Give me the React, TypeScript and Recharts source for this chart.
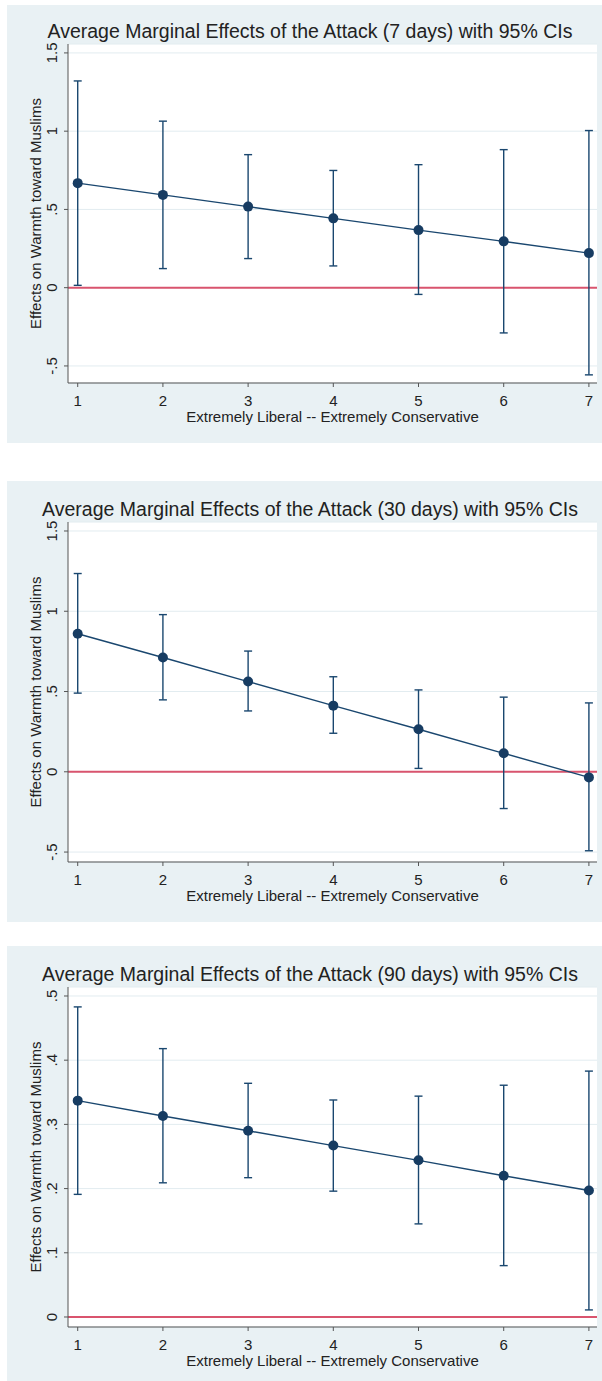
import {
  CartesianGrid,
  ComposedChart,
  ErrorBar,
  Label,
  Line,
  ReferenceLine,
  XAxis,
  YAxis,
} from 'recharts';

// ideology scale 1..7
const ideology = [1, 2, 3, 4, 5, 6, 7];
const xTickLabels = ['1', '2', '3', '4', '5', '6', '7'];

// 7 days
const est7 = [0.668, 0.593, 0.518, 0.443, 0.368, 0.296, 0.221];
const lo7 = [0.015, 0.122, 0.186, 0.139, -0.043, -0.289, -0.557];
const hi7 = [1.321, 1.064, 0.85, 0.749, 0.786, 0.882, 1.004];
const yTicks7 = [-0.5, 0, 0.5, 1, 1.5];
const yTickLabels7 = ['-.5', '0', '.5', '1', '1.5'];

// 30 days
const est30 = [0.86, 0.712, 0.562, 0.412, 0.265, 0.115, -0.035];
const lo30 = [0.49, 0.448, 0.379, 0.24, 0.021, -0.229, -0.492];
const hi30 = [1.235, 0.979, 0.752, 0.592, 0.51, 0.465, 0.429];
const yTicks30 = [-0.5, 0, 0.5, 1, 1.5];
const yTickLabels30 = ['-.5', '0', '.5', '1', '1.5'];

// 90 days
const est90 = [0.337, 0.313, 0.29, 0.267, 0.244, 0.22, 0.197];
const lo90 = [0.191, 0.209, 0.217, 0.196, 0.145, 0.08, 0.011];
const hi90 = [0.483, 0.418, 0.364, 0.338, 0.344, 0.361, 0.383];
const yTicks90 = [0, 0.1, 0.2, 0.3, 0.4, 0.5];
const yTickLabels90 = ['0', '.1', '.2', '.3', '.4', '.5'];

const NAVY = '#1a476f';
const DOT = '#173c62';
const RED = '#d9546e';
const BG = '#e9f1f4';
const GRID = '#e2ecf0';
const AXIS = '#555';
const TEXT = '#222';
const FONT = '"Liberation Sans", Arial, sans-serif';

const buildRows = (est: number[], lo: number[], hi: number[]) =>
  ideology.map((x, i) => ({ x, est: est[i], ci: [est[i] - lo[i], hi[i] - est[i]] }));

type PanelProps = {
  title: string;
  rows: { x: number; est: number; ci: number[] }[];
  yTicks: number[];
  yLabels: string[];
  yDomain: [number, number];
  top: number;
  height: number;
  marginTop: number;
  marginBottom: number;
  titleBaseline: number;
};

function Panel(p: PanelProps) {
  const plotH = p.height - p.marginTop - p.marginBottom - 30;
  const YTick = (t: any) => {
    const i = p.yTicks.indexOf(t.payload.value);
    return (
      <text
        x={t.x}
        y={t.y}
        transform={`rotate(-90, ${t.x}, ${t.y})`}
        textAnchor="middle"
        fontSize={15}
        fill={TEXT}
        fontFamily={FONT}
      >
        {i >= 0 ? p.yLabels[i] : t.payload.value}
      </text>
    );
  };
  const yTitle = () => {
    const cx = 41;
    const cy = p.marginTop + plotH / 2;
    return (
      <text
        x={cx}
        y={cy}
        transform={`rotate(-90, ${cx}, ${cy})`}
        textAnchor="middle"
        fontSize={15}
        fill={TEXT}
        fontFamily={FONT}
      >
        Effects on Warmth toward Muslims
      </text>
    );
  };
  const xTitle = () => (
    <text
      x={(68 + 597) / 2}
      y={p.marginTop + plotH + 39}
      textAnchor="middle"
      fontSize={15}
      fill={TEXT}
      fontFamily={FONT}
    >
      Extremely Liberal -- Extremely Conservative
    </text>
  );

  return (
    <>
      <div
        style={{
          position: 'absolute',
          left: 7,
          top: p.top,
          width: 595,
          height: p.height,
          background: BG,
        }}
      />
      <div
        style={{
          position: 'absolute',
          left: 20,
          width: 580,
          top: p.titleBaseline - 16,
          fontSize: 19.5,
          lineHeight: '19px',
          textAlign: 'center',
          color: TEXT,
          fontFamily: FONT,
          whiteSpace: 'nowrap',
        }}
      >
        {p.title}
      </div>
      <div style={{ position: 'absolute', left: 0, top: p.top }}>
        <ComposedChart
          width={602}
          height={p.height}
          data={p.rows}
          margin={{ top: p.marginTop, right: 5, bottom: p.marginBottom, left: 8 }}
        >
          <CartesianGrid vertical={false} stroke={GRID} fill="#ffffff" />
          <XAxis
            type="number"
            dataKey="x"
            domain={[0.886, 7.095]}
            ticks={ideology}
            tickFormatter={(v: number) => xTickLabels[ideology.indexOf(v)]}
            interval={0}
            height={30}
            tickSize={4}
            tickMargin={8}
            stroke={AXIS}
            tick={{ fill: TEXT, fontSize: 15, fontFamily: FONT }}
            allowDataOverflow
          >
            <Label content={xTitle} />
          </XAxis>
          <YAxis
            type="number"
            domain={p.yDomain}
            ticks={p.yTicks}
            interval={0}
            width={60}
            tickSize={4}
            tickMargin={7}
            stroke={AXIS}
            tick={YTick}
            allowDataOverflow
          >
            <Label content={yTitle} />
          </YAxis>
          <ReferenceLine y={0} stroke={RED} strokeWidth={2} />
          <Line
            dataKey="est"
            stroke={NAVY}
            strokeWidth={1.4}
            dot={{ r: 5, fill: DOT, stroke: DOT, strokeWidth: 0 }}
            activeDot={false}
            isAnimationActive={false}
          >
            <ErrorBar
              dataKey="ci"
              direction="y"
              width={4}
              stroke={NAVY}
              strokeWidth={1.4}
              isAnimationActive={false}
            />
          </Line>
        </ComposedChart>
      </div>
    </>
  );
}

export default function App() {
  return (
    <div style={{ position: 'absolute', left: 0, top: 0, width: 602, height: 1381, background: '#fff' }}>
      <Panel
        title="Average Marginal Effects of the Attack (7 days) with 95% CIs"
        rows={buildRows(est7, lo7, hi7)}
        yTicks={yTicks7}
        yLabels={yTickLabels7}
        yDomain={[-0.609, 1.557]}
        top={5}
        height={438}
        marginTop={39}
        marginBottom={30}
        titleBaseline={38}
      />
      <Panel
        title="Average Marginal Effects of the Attack (30 days) with 95% CIs"
        rows={buildRows(est30, lo30, hi30)}
        yTicks={yTicks30}
        yLabels={yTickLabels30}
        yDomain={[-0.562, 1.556]}
        top={481}
        height={441}
        marginTop={41}
        marginBottom={30}
        titleBaseline={516}
      />
      <Panel
        title="Average Marginal Effects of the Attack (90 days) with 95% CIs"
        rows={buildRows(est90, lo90, hi90)}
        yTicks={yTicks90}
        yLabels={yTickLabels90}
        yDomain={[-0.0156, 0.514]}
        top={946}
        height={435}
        marginTop={41}
        marginBottom={24}
        titleBaseline={981}
      />
    </div>
  );
}
